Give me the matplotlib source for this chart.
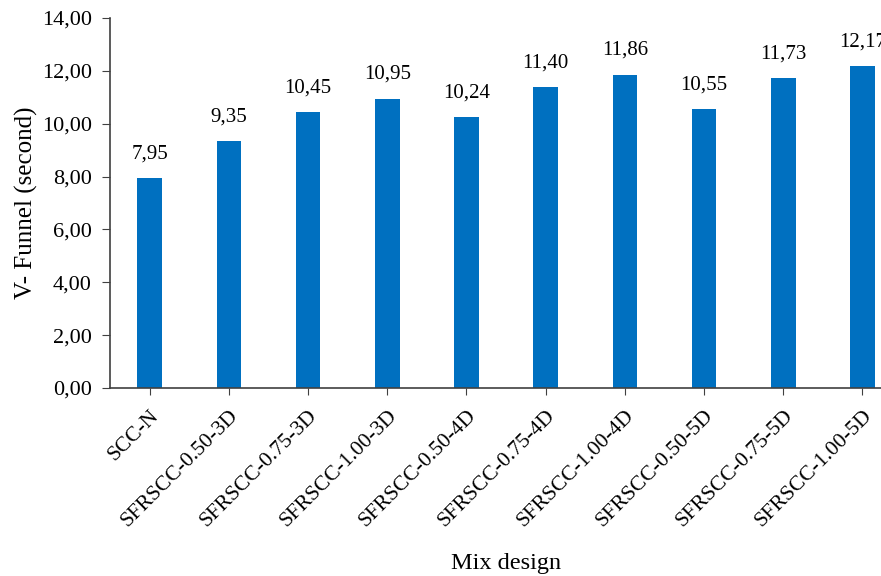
import matplotlib.pyplot as plt
from matplotlib.ticker import FuncFormatter

mixes = ['SCC-N', 'SFRSCC-0.50-3D', 'SFRSCC-0.75-3D', 'SFRSCC-1.00-3D',
         'SFRSCC-0.50-4D', 'SFRSCC-0.75-4D', 'SFRSCC-1.00-4D',
         'SFRSCC-0.50-5D', 'SFRSCC-0.75-5D', 'SFRSCC-1.00-5D']
vfunnel = [7.95, 9.35, 10.45, 10.95, 10.24, 11.40, 11.86, 10.55, 11.73, 12.17]

plt.rcParams['font.family'] = ['Liberation Serif', 'DejaVu Serif']

fig = plt.figure(figsize=(8.81, 5.76), dpi=100)
ax = fig.add_axes([0.1249, 0.3264, 0.899, 0.6424])

x = range(len(mixes))
bars = ax.bar(x, vfunnel, width=0.31, color='#0070C0')

for b, v in zip(bars, vfunnel):
    ax.text(b.get_x() + b.get_width() / 2, v + 0.55, '{:.2f}'.format(v).replace('.', ','),
            ha='center', va='bottom', fontsize=15)

ax.set_xlim(-0.5, len(mixes) - 0.5)
ax.set_ylim(0, 14)
ax.set_yticks(range(0, 15, 2))
ax.yaxis.set_major_formatter(FuncFormatter(lambda v, p: '{:.2f}'.format(v).replace('.', ',')))
ax.set_xticks(list(x))
ax.set_xticklabels(mixes, rotation=45, ha='right', rotation_mode='anchor', fontsize=15.5)
ax.tick_params(axis='y', labelsize=16, length=6, color='#404040', pad=7)
ax.tick_params(axis='x', length=5, color='#404040', pad=8)

for s in ['top', 'right']:
    ax.spines[s].set_visible(False)
for s in ['left', 'bottom']:
    ax.spines[s].set_color('#404040')
    ax.spines[s].set_linewidth(1.2)

ax.set_ylabel('V- Funnel (second)', fontsize=18, labelpad=3)
ax.set_xlabel('Mix design', fontsize=17.5)
ax.xaxis.set_label_coords(0.5, -0.445)

fig.savefig('out.png', dpi=100)
